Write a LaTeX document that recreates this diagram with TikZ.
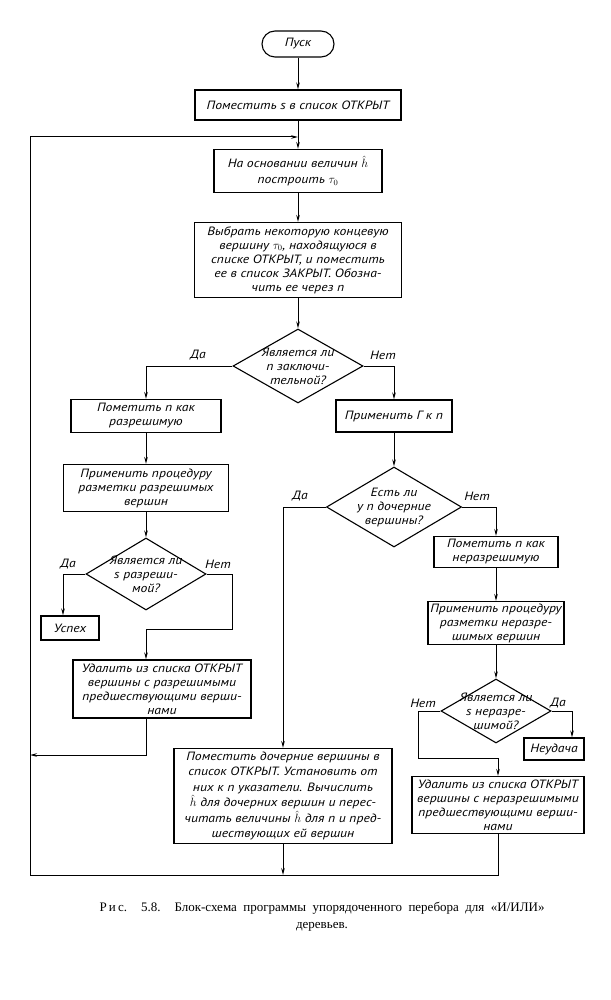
\documentclass[tikz,border=0pt]{standalone}
\usepackage{fontspec}
\newfontfamily\blockfont{PT Sans}[FakeStretch=1.14]
\newfontfamily\capfont{Liberation Serif}
\usetikzlibrary{positioning}
\usetikzlibrary{arrows.meta}
\usetikzlibrary{shapes.geometric}

\begin{document}
\begin{tikzpicture}[x=1pt, y=-1pt,
                    every node/.style={font=\blockfont\itshape\fontsize{12}{14}\selectfont, inner sep=0pt},
                    loose/.style={font=\blockfont\itshape\fontsize{12}{15.5}\selectfont},
                    sz/.style 2 args={minimum width=#1pt, minimum height=#2pt},
                    box/.style={draw, rectangle, line width=1.1pt, align=center},
                    terminal/.style={draw, rectangle, rounded corners=13pt, line width=1.1pt},
                    cond/.style={draw, diamond, line width=1.1pt},
                    condtext/.style={align=center},
                    flow/.style={line width=1pt, -{Stealth[length=7pt,width=3.5pt]}}]
    \useasboundingbox (0,0) rectangle (610,1000);

    \node[terminal, sz={72}{26}] (start) at (298,44) {Пуск};
    \node[box, sz={206}{30}] (put1) at (298,105) {Поместить s в список ОТКРЫТ};
    \node[box, loose, sz={168}{43}] (build) at (298,171) {На основании величин $\hat h$\\построить $\tau_0$};
    \node[box, sz={207}{75}] (pick) at (298,260) {Выбрать некоторую концевую\\вершину $\tau_0$, находящуюся в\\списке ОТКРЫТ, и поместить\\ее в список ЗАКРЫТ. Обозна-\\чить ее через n};
    \node[cond, sz={130}{74}] (term) at (298,366) {};
    \node[condtext] (termtxt) at (term) {Является ли\\n заключи-\\тельной?};

    \node[box, sz={150}{33}] (mark1) at (146,416) {Пометить n как\\разрешимую};
    \node[box, sz={165}{47}] (proc1) at (146,488) {Применить процедуру\\разметки разрешимых\\вершин};
    \node[cond, sz={120}{72}] (leaf) at (146,574) {};
    \node[condtext] (leaftxt) at (leaf) {Является ли\\s разреши-\\мой?};
    \node[box, sz={58}{24}] (succ) at (70,628) {Успех};
    \node[box, sz={178}{58}] (clear1) at (162,689) {Удалить из списка ОТКРЫТ\\вершины с разрешимыми\\предшествующими верши-\\нами};

    \node[box, sz={116}{32}] (apply) at (394,416) {Применить Г к n};
    \node[cond, sz={135}{80}] (child) at (394,507) {};
    \node[condtext] (childtxt) at (child) {Есть ли\\у n дочерние\\вершины?};
    \node[box, loose, sz={218}{95}] (spawn) at (283,796) {Поместить дочерние вершины в\\список ОТКРЫТ. Установить от\\них к n указатели. Вычислить\\$\hat h$ для дочерних вершин и перес-\\читать величины $\hat h$ для n и пред-\\шествующих ей вершин};

    \node[box, sz={124}{31}] (mark2) at (496,552) {Пометить n как\\неразрешимую};
    \node[box, sz={136}{43}] (proc2) at (496,623) {Применить процедуру\\разметки неразре-\\шимых вершин};
    \node[cond, sz={110}{64}] (unsolv) at (496,711) {};
    \node[condtext] (unsolvtxt) at (unsolv) {Является ли\\s неразре-\\шимой?};
    \node[box, sz={60}{22}] (fail) at (554,749) {Неудача};
    \node[box, sz={172}{57}] (clear2) at (498,805) {Удалить из списка ОТКРЫТ\\вершины с неразрешимыми\\предшествующими верши-\\нами};

    \node (termyes) at (198,355) {Да};
    \node (termno) at (383,355) {Нет};
    \node (leafyes) at (68,564) {Да};
    \node (leafno) at (218,564) {Нет};
    \node (childyes) at (300,496) {Да};
    \node (childno) at (477,496) {Нет};
    \node (unsolvno) at (423,703) {Нет};
    \node (unsolvyes) at (558,703) {Да};

    \coordinate (leafbend) at (232,629);
    \coordinate (unsolvbend) at (418,758);
    \coordinate (backl) at (30,755);
    \coordinate (loopbl) at (30,875);
    \coordinate (loopin) at (298,137);

    \draw[flow] (start) -- (put1);
    \draw[flow] (put1) -- (build);
    \draw[flow] (build) -- (pick);
    \draw[flow] (pick) -- (term);
    \draw[flow] (term.west) -| (mark1);
    \draw[flow] (term.east) -| (apply);
    \draw[flow] (mark1) -- (proc1);
    \draw[flow] (proc1) -- (leaf);
    \draw[flow] (leaf.west) -| ([xshift=-7pt]succ.north);
    \draw[flow] (leaf.east) -| (leafbend) -| (clear1.north -| leaf);
    \draw[flow] (clear1.south -| leaf) |- (backl);
    \draw[flow] (apply) -- (child);
    \draw[flow] (child.west) -| (spawn);
    \draw[flow] (child.east) -| (mark2);
    \draw[flow] (spawn) -- (spawn |- loopbl);
    \draw[flow] (mark2) -- (proc2);
    \draw[flow] (proc2) -- (unsolv);
    \draw[flow] (unsolv.east) -| ([xshift=18pt]fail.north);
    \draw[flow] (unsolv.west) -| (unsolvbend) -| (clear2);
    \draw[flow] (clear2) |- (loopbl) |- (loopin);

    \node[font=\capfont\fontsize{13}{17}\selectfont, align=center] (caption) at (322,917) {\makebox[445pt][s]{Р\,и\,с. 5.8. Блок-схема программы упорядоченного перебора для «И/ИЛИ»}\\деревьев.};
\end{tikzpicture}
\end{document}
